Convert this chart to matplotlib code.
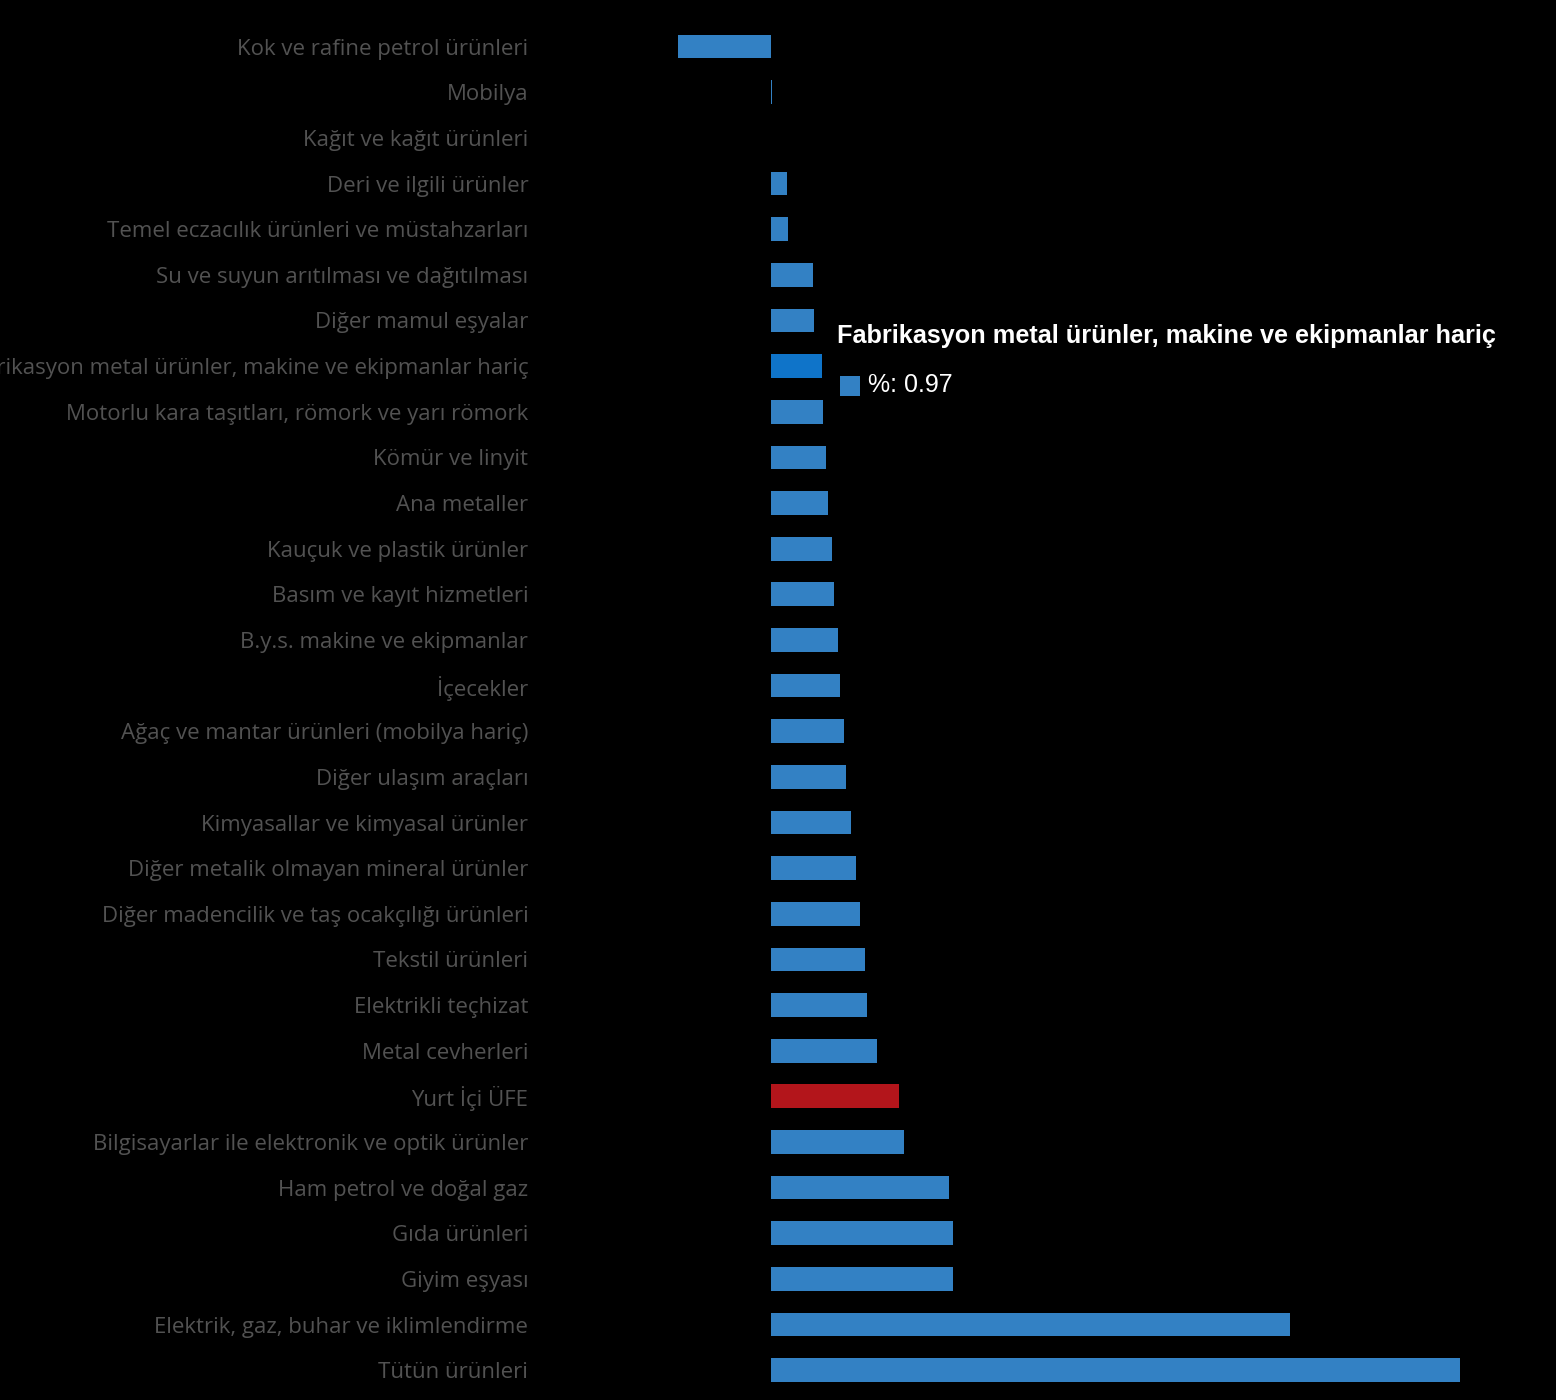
import matplotlib
matplotlib.use("Agg")
import matplotlib.pyplot as plt
from matplotlib.patches import Rectangle

categories = [
    "Kok ve rafine petrol ürünleri",
    "Mobilya",
    "Kağıt ve kağıt ürünleri",
    "Deri ve ilgili ürünler",
    "Temel eczacılık ürünleri ve müstahzarları",
    "Su ve suyun arıtılması ve dağıtılması",
    "Diğer mamul eşyalar",
    "Fabrikasyon metal ürünler, makine ve ekipmanlar hariç",
    "Motorlu kara taşıtları, römork ve yarı römork",
    "Kömür ve linyit",
    "Ana metaller",
    "Kauçuk ve plastik ürünler",
    "Basım ve kayıt hizmetleri",
    "B.y.s. makine ve ekipmanlar",
    "İçecekler",
    "Ağaç ve mantar ürünleri (mobilya hariç)",
    "Diğer ulaşım araçları",
    "Kimyasallar ve kimyasal ürünler",
    "Diğer metalik olmayan mineral ürünler",
    "Diğer madencilik ve taş ocakçılığı ürünleri",
    "Tekstil ürünleri",
    "Elektrikli teçhizat",
    "Metal cevherleri",
    "Yurt İçi ÜFE",
    "Bilgisayarlar ile elektronik ve optik ürünler",
    "Ham petrol ve doğal gaz",
    "Gıda ürünleri",
    "Giyim eşyası",
    "Elektrik, gaz, buhar ve iklimlendirme",
    "Tütün ürünleri",
]
values = [-1.80, 0.02, 0.0, 0.31, 0.33, 0.80, 0.83, 0.97, 0.99, 1.05,
          1.09, 1.17, 1.20, 1.28, 1.32, 1.40, 1.44, 1.53, 1.63, 1.71,
          1.81, 1.84, 2.04, 2.45, 2.56, 3.42, 3.50, 3.50, 9.98, 13.26]

highlight_total = "Yurt İçi ÜFE"
hover_item = "Fabrikasyon metal ürünler, makine ve ekipmanlar hariç"
tooltip_label = "%"

base_color = "#3381c4"
hover_color = "#0f74c9"
total_color = "#b3151b"

colors = []
for c in categories:
    if c == highlight_total:
        colors.append(total_color)
    elif c == hover_item:
        colors.append(hover_color)
    else:
        colors.append(base_color)

fig = plt.figure(figsize=(15.56, 14.0), dpi=100, facecolor="black")
ax = fig.add_axes([0.352, 0.005, 0.648, 0.978], facecolor="black")

y = list(range(len(categories)))
ax.barh(y, values, height=0.52, color=colors, edgecolor="none")
ax.set_ylim(len(categories) - 0.5, -0.5)
ax.set_xlim(-4.3, 15.1)
ax.set_yticks(y)
ax.set_yticklabels(categories, fontfamily="Open Sans", fontsize=16, color="#525252")
ax.tick_params(axis="y", length=0, pad=14)
ax.set_xticks([])
for s in ax.spines.values():
    s.set_visible(False)

# tooltip
idx = categories.index(hover_item)
fig.text(837 / 1556, 1 - 336 / 1400, hover_item, fontfamily="Liberation Sans",
         fontweight="bold", fontsize=18.2, color="white", va="center", ha="left")
fig.patches.append(Rectangle((840 / 1556, 1 - 396 / 1400), 20 / 1556, 20 / 1400,
                             transform=fig.transFigure, facecolor=base_color,
                             edgecolor="none"))
fig.text(868 / 1556, 1 - 385 / 1400, f"{tooltip_label}: {values[idx]:.2f}",
         fontfamily="Liberation Sans", fontsize=18, color="white",
         va="center", ha="left")

fig.savefig("out.png", dpi=100, facecolor="black")
